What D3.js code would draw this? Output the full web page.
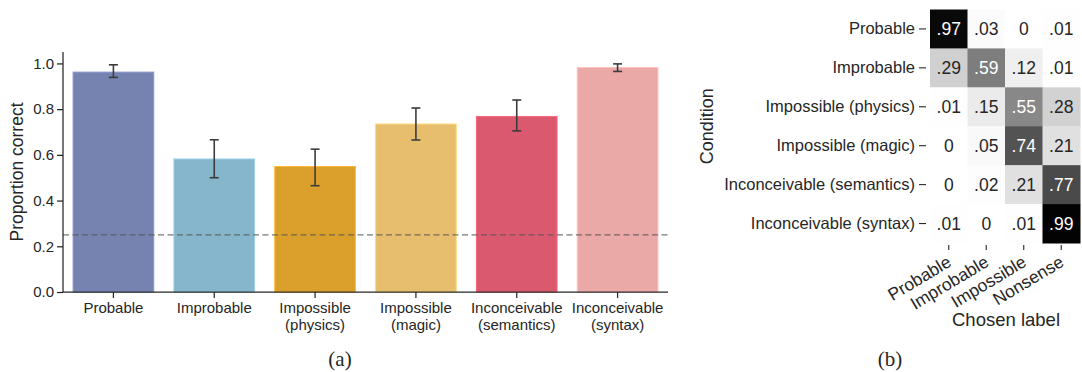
<!DOCTYPE html>
<html>
<head>
<meta charset="utf-8">
<script src="https://cdn.jsdelivr.net/npm/d3@7"></script>
<style>
  html, body { margin: 0; padding: 0; background: #fff; }
  svg { display: block; }
  text { font-family: "Liberation Sans", Arial, Helvetica, sans-serif; fill: #262626; }
</style>
</head>
<body>
<svg id="chart" width="1082" height="372"></svg>
<script>
// ---------- Data: panel (a) ----------
const conditions = ["Probable", "Improbable", "Impossible\n(physics)", "Impossible\n(magic)", "Inconceivable\n(semantics)", "Inconceivable\n(syntax)"];
const proportion = [0.962, 0.582, 0.549, 0.735, 0.768, 0.982];
const errLow  = [0.939, 0.500, 0.465, 0.665, 0.705, 0.965];
const errHigh = [0.994, 0.666, 0.625, 0.805, 0.840, 0.998];
const barColors = ["#7682B0", "#86B6CB", "#DBA02C", "#E7BE6E", "#DA596E", "#EAA8A6"];
const yTicks = [0.0, 0.2, 0.4, 0.6, 0.8, 1.0];
const chanceLevel = 0.25;

// ---------- Data: panel (b) ----------
const rowLabels = ["Probable", "Improbable", "Impossible (physics)", "Impossible (magic)", "Inconceivable (semantics)", "Inconceivable (syntax)"];
const colLabels = ["Probable", "Improbable", "Impossible", "Nonsense"];
const confusion = [
  [0.97, 0.03, 0.00, 0.01],
  [0.29, 0.59, 0.12, 0.01],
  [0.01, 0.15, 0.55, 0.28],
  [0.00, 0.05, 0.74, 0.21],
  [0.00, 0.02, 0.21, 0.77],
  [0.01, 0.00, 0.01, 0.99]
];
const cellText = [
  [".97", ".03", "0", ".01"],
  [".29", ".59", ".12", ".01"],
  [".01", ".15", ".55", ".28"],
  ["0", ".05", ".74", ".21"],
  ["0", ".02", ".21", ".77"],
  [".01", "0", ".01", ".99"]
];

const svg = d3.select("#chart");
const axisColor = "#262626";

// ================= Panel (a) =================
const A = { left: 63, right: 668, top: 52, bottom: 292 };
const x = d3.scaleBand().domain(conditions).range([A.left, A.right]).paddingInner(0.2).paddingOuter(0.1);
const y = d3.scaleLinear().domain([0, 1.05]).range([A.bottom, A.top]);

const gA = svg.append("g");

// bars
gA.selectAll("rect.bar").data(conditions).join("rect")
  .attr("class", "bar")
  .attr("x", d => x(d))
  .attr("width", x.bandwidth())
  .attr("y", (d, i) => y(proportion[i]))
  .attr("height", (d, i) => y(0) - y(proportion[i]))
  .attr("fill", (d, i) => barColors[i])
  .attr("stroke", (d, i) => d3.color(barColors[i]).brighter(0.4))
  .attr("stroke-width", 1);

// chance line
gA.append("line")
  .attr("x1", A.left).attr("x2", A.right)
  .attr("y1", y(chanceLevel)).attr("y2", y(chanceLevel))
  .attr("stroke", "#555").attr("stroke-opacity", 0.8)
  .attr("stroke-width", 1.3).attr("stroke-dasharray", "6,3.5");

// error bars
const eb = gA.selectAll("g.err").data(conditions).join("g").attr("class", "err");
const cx = d => x(d) + x.bandwidth() / 2;
eb.append("line").attr("x1", cx).attr("x2", cx)
  .attr("y1", (d, i) => y(errLow[i])).attr("y2", (d, i) => y(errHigh[i]));
eb.append("line").attr("x1", d => cx(d) - 4.5).attr("x2", d => cx(d) + 4.5)
  .attr("y1", (d, i) => y(errLow[i])).attr("y2", (d, i) => y(errLow[i]));
eb.append("line").attr("x1", d => cx(d) - 4.5).attr("x2", d => cx(d) + 4.5)
  .attr("y1", (d, i) => y(errHigh[i])).attr("y2", (d, i) => y(errHigh[i]));
eb.selectAll("line").attr("stroke", "#3c3c3c").attr("stroke-width", 1.6);

// y axis
const yAxis = gA.append("g").attr("transform", `translate(${A.left},0)`)
  .call(d3.axisLeft(y).tickValues(yTicks).tickFormat(d3.format(".1f")).tickSize(6).tickPadding(3));
yAxis.select(".domain").attr("stroke", axisColor).attr("stroke-width", 1.25)
  .attr("d", `M0,${A.top}V${A.bottom}`);
yAxis.selectAll(".tick line").attr("stroke", axisColor).attr("stroke-width", 1.25);
yAxis.selectAll(".tick text").attr("font-size", 15).attr("fill", axisColor)
  .style("font-family", '"Liberation Sans", Arial, sans-serif');

// x axis
const xAxis = gA.append("g").attr("transform", `translate(0,${A.bottom})`)
  .call(d3.axisBottom(x).tickSize(6).tickPadding(4).tickFormat(""));
xAxis.select(".domain").attr("stroke", axisColor).attr("stroke-width", 1.25)
  .attr("d", `M${A.left},0H${A.right}`);
xAxis.selectAll(".tick line").attr("stroke", axisColor).attr("stroke-width", 1.25);
xAxis.selectAll(".tick").each(function(d) {
  const lines = d.split("\n");
  const t = d3.select(this).append("text")
    .attr("text-anchor", "middle").attr("font-size", 15).attr("fill", axisColor);
  lines.forEach((ln, k) => {
    t.append("tspan").attr("x", 0).attr("y", 20.5 + k * 17).text(ln);
  });
});

// y label
gA.append("text")
  .attr("transform", `translate(23,${(A.top + A.bottom) / 2}) rotate(-90)`)
  .attr("text-anchor", "middle").attr("font-size", 17.5).attr("fill", axisColor)
  .text("Proportion correct");

// caption (a)
svg.append("text").attr("x", 340).attr("y", 366).attr("text-anchor", "middle")
  .attr("font-size", 21).style("font-family", '"Liberation Serif", "Times New Roman", serif')
  .attr("fill", "#000").text("(a)");

// ================= Panel (b) =================
const B = { left: 930, right: 1080, top: 9.5, bottom: 243 };
const hx = d3.scaleBand().domain(colLabels).range([B.left, B.right]);
const hy = d3.scaleBand().domain(rowLabels).range([B.top, B.bottom]);
const grey = d3.scaleSequential(d3.interpolateGreys).domain([0, 1]);

const gB = svg.append("g");
const cells = [];
rowLabels.forEach((r, i) => colLabels.forEach((c, j) => cells.push({ r, c, v: confusion[i][j], t: cellText[i][j] })));

function lum(col) {
  const c = d3.rgb(col);
  const f = v => { v /= 255; return v <= 0.03928 ? v / 12.92 : Math.pow((v + 0.055) / 1.055, 2.4); };
  return 0.2126 * f(c.r) + 0.7152 * f(c.g) + 0.0722 * f(c.b);
}

gB.selectAll("rect.cell").data(cells).join("rect")
  .attr("class", "cell")
  .attr("x", d => hx(d.c)).attr("y", d => hy(d.r))
  .attr("width", hx.bandwidth() + 0.5).attr("height", hy.bandwidth() + 0.5)
  .attr("fill", d => grey(d.v));

gB.selectAll("text.val").data(cells).join("text")
  .attr("class", "val")
  .attr("x", d => hx(d.c) + hx.bandwidth() / 2)
  .attr("y", d => hy(d.r) + hy.bandwidth() / 2)
  .attr("dy", "0.36em")
  .attr("text-anchor", "middle").attr("font-size", 17.5)
  .style("fill", d => lum(grey(d.v)) > 0.408 ? "#262626" : "#ffffff")
  .text(d => d.t);

// row axis
const hyAxis = gB.append("g").attr("transform", `translate(${B.left - 4},0)`)
  .call(d3.axisLeft(hy).tickSize(7).tickPadding(4));
hyAxis.select(".domain").remove();
hyAxis.selectAll(".tick line").attr("stroke", axisColor).attr("stroke-width", 1.1);
hyAxis.selectAll(".tick text").attr("font-size", 16.5).attr("fill", axisColor)
  .style("font-family", '"Liberation Sans", Arial, sans-serif');

// column axis
const hxAxis = gB.append("g").attr("transform", `translate(0,${B.bottom + 2})`)
  .call(d3.axisBottom(hx).tickSize(5).tickFormat(""));
hxAxis.select(".domain").remove();
hxAxis.selectAll(".tick line").attr("stroke", axisColor).attr("stroke-width", 1.1);
hxAxis.selectAll(".tick").append("text")
  .attr("transform", "translate(-3,9) rotate(-31)")
  .attr("text-anchor", "end").attr("dy", "0.75em")
  .attr("font-size", 17.5).attr("fill", axisColor)
  .text(d => d);

// axis labels
gB.append("text")
  .attr("transform", `translate(713,${(B.top + B.bottom) / 2}) rotate(-90)`)
  .attr("text-anchor", "middle").attr("font-size", 18).attr("fill", axisColor)
  .text("Condition");
gB.append("text").attr("x", 1006).attr("y", 326).attr("text-anchor", "middle")
  .attr("font-size", 18.5).attr("fill", axisColor).text("Chosen label");

// caption (b)
svg.append("text").attr("x", 890).attr("y", 366).attr("text-anchor", "middle")
  .attr("font-size", 21).style("font-family", '"Liberation Serif", "Times New Roman", serif')
  .attr("fill", "#000").text("(b)");
</script>
</body>
</html>
